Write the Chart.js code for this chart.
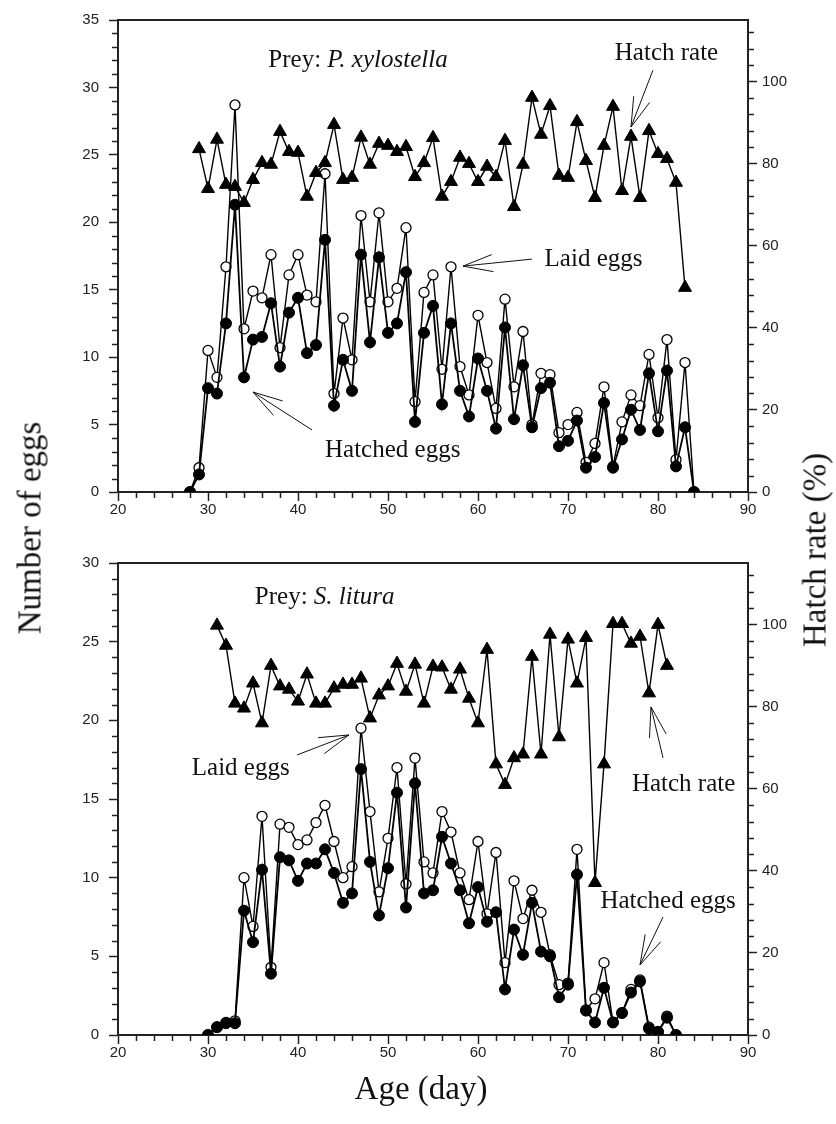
<!DOCTYPE html>
<html>
<head>
<meta charset="utf-8">
<script src="https://cdn.jsdelivr.net/npm/chart.js@4.4.1/dist/chart.umd.min.js"></script>
<style>
  html, body { margin: 0; padding: 0; background: #fff; }
  #page { position: relative; width: 836px; height: 1124px; overflow: hidden; background: #fff; }
  #page canvas { position: absolute; left: 0; }
  .title { position: absolute; font-family: 'Liberation Serif', 'Times New Roman', serif; font-size: 33px; color: #111; white-space: nowrap; transform: translate(-50%, -50%); }
  .rot { transform: translate(-50%, -50%) rotate(-90deg); }
</style>
</head>
<body>
<div id="page">
  <canvas id="topChart" width="836" height="530" style="top:0"></canvas>
  <canvas id="bottomChart" width="836" height="594" style="top:530px"></canvas>
  <div class="title rot" style="left:30px; top:528px">Number of eggs</div>
  <div class="title rot" style="left:815px; top:550px">Hatch rate (%)</div>
  <div class="title" style="left:421px; top:1088px">Age (day)</div>
</div>
<script>
// Prey: P. xylostella
const topDays = [28, 29, 30, 31, 32, 33, 34, 35, 36, 37, 38, 39, 40, 41, 42, 43, 44, 45, 46, 47,
  48, 49, 50, 51, 52, 53, 54, 55, 56, 57, 58, 59, 60, 61, 62, 63, 64, 65, 66, 67,
  68, 69, 70, 71, 72, 73, 74, 75, 76, 77, 78, 79, 80, 81, 82, 83, 84];
const topLaid = [0, 1.8, 10.5, 8.5, 16.7, 28.7, 12.1, 14.9, 14.4, 17.6,
  10.7, 16.1, 17.6, 14.6, 14.1, 23.6, 7.3, 12.9, 9.8, 20.5,
  14.1, 20.7, 14.1, 15.1, 19.6, 6.7, 14.8, 16.1, 9.1, 16.7,
  9.3, 7.2, 13.1, 9.6, 6.2, 14.3, 7.8, 11.9, 5.0, 8.8,
  8.7, 4.4, 5.0, 5.9, 2.2, 3.6, 7.8, 1.9, 5.2, 7.2,
  6.4, 10.2, 5.5, 11.3, 2.4, 9.6, 0];
const topHatched = [0, 1.3, 7.7, 7.3, 12.5, 21.3, 8.5, 11.3, 11.5, 14.0,
  9.3, 13.3, 14.4, 10.3, 10.9, 18.7, 6.4, 9.8, 7.5, 17.6,
  11.1, 17.4, 11.8, 12.5, 16.3, 5.2, 11.8, 13.8, 6.5, 12.5,
  7.5, 5.6, 9.9, 7.5, 4.7, 12.2, 5.4, 9.4, 4.8, 7.7,
  8.1, 3.4, 3.8, 5.3, 1.8, 2.6, 6.6, 1.8, 3.9, 6.1,
  4.6, 8.8, 4.5, 9.0, 1.9, 4.8, 0];
const topRate = [null, 83.6, 73.9, 85.9, 74.9, 74.4, 70.5, 76.1, 80.2, 79.8,
  87.8, 82.9, 82.7, 72.0, 77.8, 80.2, 89.5, 76.1, 76.6, 86.4,
  79.8, 84.9, 84.4, 82.9, 84.1, 76.8, 80.2, 86.3, 72.0, 75.6,
  81.5, 80.0, 75.6, 79.3, 76.8, 85.6, 69.5, 79.8, 96.1, 87.1,
  94.1, 77.1, 76.6, 90.2, 80.7, 71.7, 84.4, 93.9, 73.4, 86.6,
  71.7, 88.0, 82.4, 81.2, 75.4, 49.8, null];

// Prey: S. litura
const bottomDays = [30, 31, 32, 33, 34, 35, 36, 37, 38, 39, 40, 41, 42, 43, 44, 45, 46, 47, 48, 49,
  50, 51, 52, 53, 54, 55, 56, 57, 58, 59, 60, 61, 62, 63, 64, 65, 66, 67, 68, 69,
  70, 71, 72, 73, 74, 75, 76, 77, 78, 79, 80, 81, 82];
const bottomLaid = [0, 0.5, 0.8, 0.9, 10.0, 6.9, 13.9, 4.3, 13.4, 13.2,
  12.1, 12.4, 13.5, 14.6, 12.3, 10.0, 10.7, 19.5, 14.2, 9.1,
  12.5, 17.0, 9.6, 17.6, 11.0, 10.3, 14.2, 12.9, 10.3, 8.6,
  12.3, 7.7, 11.6, 4.6, 9.8, 7.4, 9.2, 7.8, 5.1, 3.2,
  3.3, 11.8, 1.6, 2.3, 4.6, 0.8, 1.4, 2.9, 3.5, 0.5,
  0.2, 1.2, 0];
const bottomHatched = [0, 0.5, 0.75, 0.75, 7.9, 5.9, 10.5, 3.9, 11.3, 11.1,
  9.8, 10.9, 10.9, 11.8, 10.3, 8.4, 9.0, 16.9, 11.0, 7.6,
  10.6, 15.4, 8.1, 16.0, 9.0, 9.2, 12.6, 10.9, 9.2, 7.1,
  9.4, 7.2, 7.8, 2.9, 6.7, 5.1, 8.4, 5.3, 5.0, 2.4,
  3.2, 10.2, 1.55, 0.8, 3.0, 0.8, 1.4, 2.7, 3.4, 0.4,
  0.2, 1.1, 0];
const bottomRate = [null, 99.8, 94.9, 80.8, 79.6, 85.7, 76.0, 90.0, 85.0, 84.2,
  81.3, 87.9, 80.8, 80.8, 84.5, 85.4, 85.4, 86.9, 77.2, 82.8,
  85.0, 90.5, 83.7, 90.3, 80.8, 89.8, 89.6, 84.2, 89.1, 82.0,
  76.0, 93.9, 66.0, 61.0, 67.5, 68.4, 92.2, 68.4, 97.6, 72.6,
  96.4, 85.7, 96.8, 37.1, 66.0, 100.2, 100.2, 95.4, 97.1, 83.3,
  100.0, 90.0, null];

const serif = "'Liberation Serif', 'Times New Roman', serif";
const sans = "'Liberation Sans', Arial, sans-serif";
const ink = '#222';

function pts(days, vals) {
  return days.map((d, i) => ({ x: d, y: vals[i] }));
}

// tick marks between the labelled ones
function minorTicks(ctx, scale, step, major, len, side) {
  const n = Math.floor((scale.max - scale.min) / step + 1e-6);
  ctx.beginPath();
  for (let i = 0; i <= n; i++) {
    const v = scale.min + i * step;
    if (Math.abs(v / major - Math.round(v / major)) < 1e-6) continue;
    const p = Math.round(scale.getPixelForValue(v)) + 0.5;
    if (side === 'bottom') { ctx.moveTo(p, scale.top); ctx.lineTo(p, scale.top + len); }
    if (side === 'left') { ctx.moveTo(scale.right, p); ctx.lineTo(scale.right - len, p); }
    if (side === 'right') { ctx.moveTo(scale.left, p); ctx.lineTo(scale.left + len, p); }
  }
  ctx.stroke();
}

const framePlugin = {
  id: 'frame',
  afterDraw(chart, args, opts) {
    const { ctx, chartArea: a, scales } = chart;
    const x = scales.x, y = scales.y;
    ctx.save();
    ctx.strokeStyle = ink;
    ctx.lineWidth = 2;
    ctx.beginPath();
    ctx.moveTo(a.left - 1, a.top);
    ctx.lineTo(a.right + 1, a.top);
    ctx.stroke();

    ctx.lineWidth = 1.5;
    minorTicks(ctx, x, 2, 10, 6, 'bottom');
    minorTicks(ctx, y, 1, 5, 6, 'left');
    minorTicks(ctx, scales.y1, 4, 20, 6, 'right');

    // arrows, given in data units of the left axis
    ctx.strokeStyle = '#111';
    ctx.lineWidth = 1;
    opts.arrows.forEach(ar => {
      const x1 = x.getPixelForValue(ar.from[0]), y1 = y.getPixelForValue(ar.from[1]);
      const x2 = x.getPixelForValue(ar.to[0]), y2 = y.getPixelForValue(ar.to[1]);
      const ang = Math.atan2(y2 - y1, x2 - x1);
      ctx.beginPath();
      ctx.moveTo(x1, y1);
      ctx.lineTo(x2, y2);
      [-0.28, 0.28].forEach(d => {
        ctx.moveTo(x2, y2);
        ctx.lineTo(x2 - 31 * Math.cos(ang + d), y2 - 31 * Math.sin(ang + d));
      });
      ctx.stroke();
    });

    // labels
    ctx.fillStyle = '#111';
    ctx.textBaseline = 'alphabetic';
    ctx.textAlign = 'left';
    opts.notes.forEach(n => {
      let px = x.getPixelForValue(n.at[0]);
      const py = y.getPixelForValue(n.at[1]);
      n.parts.forEach(part => {
        ctx.font = (part.italic ? 'italic ' : '') + '25px ' + serif;
        ctx.fillText(part.t, px, py);
        px += ctx.measureText(part.t).width;
      });
    });
    ctx.restore();
  }
};

function panelConfig(p) {
  const tickFont = { family: sans, size: 15 };
  const axisLine = { display: true, color: ink, width: 2 };
  const tickGrid = { display: true, drawOnChartArea: false, drawTicks: true, tickLength: 9, tickColor: ink, tickWidth: 1.5 };
  return {
    type: 'line',
    data: {
      datasets: [
        {
          label: 'Hatch rate', data: pts(p.days, p.rate), yAxisID: 'y1',
          borderColor: '#000', borderWidth: 1.4, tension: 0,
          pointStyle: 'triangle', pointRadius: 7.5, pointBackgroundColor: '#000',
          pointBorderColor: '#000', pointBorderWidth: 1
        },
        {
          label: 'Hatched eggs', data: pts(p.days, p.hatched), yAxisID: 'y',
          borderColor: '#000', borderWidth: 1.8, tension: 0,
          pointStyle: 'circle', pointRadius: 5.5, pointBackgroundColor: '#000',
          pointBorderColor: '#000', pointBorderWidth: 1
        },
        {
          label: 'Laid eggs', data: pts(p.days, p.laid), yAxisID: 'y',
          borderColor: '#000', borderWidth: 1.4, tension: 0,
          pointStyle: 'circle', pointRadius: 5, pointBackgroundColor: '#fff',
          pointBorderColor: '#000', pointBorderWidth: 1.3
        }
      ]
    },
    options: {
      responsive: false,
      animation: false,
      events: [],
      layout: { padding: { top: p.padTop, left: 0, right: 0, bottom: 0 } },
      plugins: {
        legend: { display: false },
        tooltip: { enabled: false },
        frame: { notes: p.notes, arrows: p.arrows }
      },
      scales: {
        x: {
          type: 'linear', position: 'bottom', min: 20, max: 90,
          ticks: { stepSize: 10, padding: 0, font: tickFont, color: ink, maxRotation: 0 },
          grid: tickGrid, border: axisLine,
          afterFit: s => { s.height = p.xHeight; }
        },
        y: {
          position: 'left', min: 0, max: p.yMax,
          ticks: { stepSize: 5, padding: 10, font: tickFont, color: ink },
          grid: tickGrid, border: axisLine,
          afterFit: s => { s.width = 118; }
        },
        y1: {
          position: 'right', min: 0, max: 115,
          ticks: { stepSize: 20, includeBounds: false, padding: 5, font: tickFont, color: ink },
          grid: tickGrid, border: axisLine,
          afterFit: s => { s.width = 88; }
        }
      }
    },
    plugins: [framePlugin]
  };
}

new Chart(document.getElementById('topChart'), panelConfig({
  days: topDays, laid: topLaid, hatched: topHatched, rate: topRate,
  yMax: 35, padTop: 20, xHeight: 38,
  notes: [
    { at: [36.7, 31.5], parts: [{ t: 'Prey: ' }, { t: 'P. xylostella', italic: true }] },
    { at: [75.2, 32.0], parts: [{ t: 'Hatch rate' }] },
    { at: [67.4, 16.75], parts: [{ t: 'Laid eggs' }] },
    { at: [43.0, 2.6], parts: [{ t: 'Hatched eggs' }] }
  ],
  arrows: [
    { from: [79.44, 31.28], to: [77.0, 27.06] },
    { from: [66.0, 17.27], to: [58.33, 16.75] },
    { from: [41.56, 4.6], to: [35.0, 7.41] }
  ]
}));

new Chart(document.getElementById('bottomChart'), panelConfig({
  days: bottomDays, laid: bottomLaid, hatched: bottomHatched, rate: bottomRate,
  yMax: 30, padTop: 33, xHeight: 89,
  notes: [
    { at: [35.2, 27.4], parts: [{ t: 'Prey: ' }, { t: 'S. litura', italic: true }] },
    { at: [28.2, 16.5], parts: [{ t: 'Laid eggs' }] },
    { at: [77.1, 15.5], parts: [{ t: 'Hatch rate' }] },
    { at: [73.6, 8.1], parts: [{ t: 'Hatched eggs' }] }
  ],
  arrows: [
    { from: [39.9, 17.8], to: [45.67, 19.07] },
    { from: [80.56, 17.61], to: [79.22, 20.85] },
    { from: [80.56, 7.5], to: [78.0, 4.45] }
  ]
}));
</script>
</body>
</html>
